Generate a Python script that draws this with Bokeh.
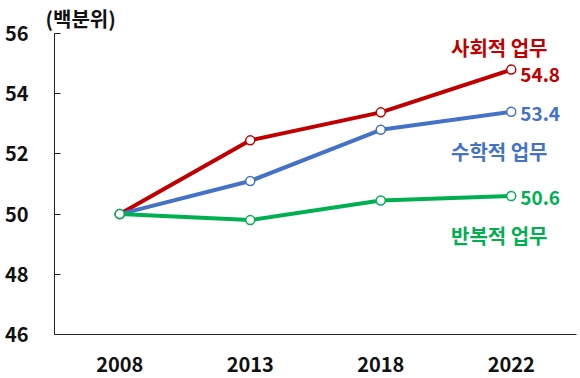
from bokeh.plotting import figure
from bokeh.models import ColumnDataSource, Range1d, FactorRange
from bokeh.core.properties import value
from bokeh.embed import file_html
from bokeh.resources import INLINE

years = ["2008", "2013", "2018", "2022"]
social = [50.0, 52.45, 53.38, 54.8]
math_ = [50.0, 51.1, 52.8, 53.4]
routine = [50.0, 49.8, 50.45, 50.6]
names = ["사회적 업무", "수학적 업무", "반복적 업무"]
y_ticks = [46, 48, 50, 52, 54, 56]
unit_label = "(백분위)"

FONT = "Noto Sans CJK KR"
RED, BLUE, GREEN = "#C00000", "#4472C4", "#00B050"

p = figure(width=578, height=376, output_backend="svg", toolbar_location=None,
           x_range=FactorRange(*years, range_padding=0), y_range=Range1d(46, 56),
           min_border_left=54, min_border_right=2, min_border_top=32, min_border_bottom=42,
           title=unit_label)
p.title.text_font = FONT
p.title.text_font_size = "20px"
p.title.text_font_style = "bold"
p.title.text_color = "#111111"
p.title.align = "left"
p.title.offset = -9
p.title.standoff = 2
p.outline_line_color = None
p.xgrid.grid_line_color = None
p.ygrid.grid_line_color = None

p.yaxis.ticker = y_ticks
p.yaxis.major_tick_in = 6
p.yaxis.major_tick_out = 0
p.yaxis.minor_tick_line_color = None
p.yaxis.axis_line_color = "#222222"
p.yaxis.major_tick_line_color = "#222222"
p.yaxis.major_label_standoff = 26
p.xaxis.major_tick_line_color = None
p.xaxis.axis_line_color = "#222222"
p.xaxis.major_label_standoff = 16
for ax in (p.xaxis, p.yaxis):
    ax.major_label_text_font = FONT
    ax.major_label_text_font_size = "20px"
    ax.major_label_text_font_style = "bold"
    ax.major_label_text_color = "#111111"

series = [(social, RED, names[0], 55.52, 5), (math_, BLUE, names[1], 52.09, 2), (routine, GREEN, names[2], 49.28, 2)]
for vals, col, name, name_y, voff in series:
    src = ColumnDataSource(dict(x=years, y=vals))
    p.line("x", "y", source=src, line_color=col, line_width=4)
    p.scatter("x", "y", source=src, size=9, fill_color="white", line_color=col, line_width=1.5)
    p.text(x=[years[-1]], y=[vals[-1]], text=[f"{vals[-1]:.1f}"], x_offset=9, y_offset=voff,
           text_align="left", text_baseline="middle", text_color=col,
           text_font=value(FONT), text_font_size="19px", text_font_style="bold")
    p.text(x=[years[-1]], y=[name_y], text=[name], x_offset=-12,
           text_align="center", text_baseline="middle", text_color=col,
           text_font=value(FONT), text_font_size="20px", text_font_style="bold")

open("out.html", "w").write(file_html(p, INLINE))
